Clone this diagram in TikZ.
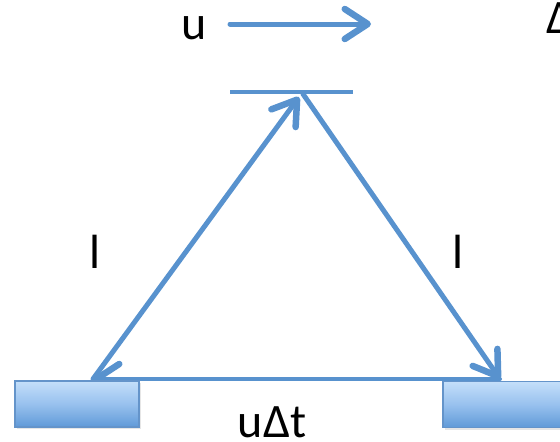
\documentclass[tikz,border=0pt]{standalone}
\usepackage{fontspec}
\setmainfont{Carlito}
\usetikzlibrary{arrows.meta,shadows}
\definecolor{ln}{RGB}{88,146,206}
\definecolor{boxtop}{RGB}{196,223,250}
\definecolor{boxmid}{RGB}{152,193,238}
\definecolor{boxbot}{RGB}{96,154,216}
\definecolor{boxedge}{RGB}{100,148,202}
\tikzset{
  beam/.style={draw=ln,line width=5pt,line cap=round},
  barb/.style={-{Straight Barb[length=23pt,width=30pt,line width=6.5pt,line cap=round,round]}},
  mirrorbox/.style={rectangle,draw=boxedge,line width=1.5pt,top color=boxtop,bottom color=boxbot,middle color=boxmid,
    minimum width=124pt,minimum height=46pt,inner sep=0pt,
    drop shadow={shadow xshift=1.5pt,shadow yshift=-2pt,opacity=0.2}},
  lbl/.style={font=\fontsize{48}{58}\selectfont,text=black,inner sep=0pt,anchor=base}
}
\begin{document}
\begin{tikzpicture}[x=1pt,y=-1pt]
\useasboundingbox (0,0) rectangle (560,442);
\clip (0,0) rectangle (560,442);
% coordinates
\coordinate (ustart) at (230,24);
\coordinate (uend) at (371,24);
\coordinate (mL) at (230,92);
\coordinate (mR) at (353,92);
\coordinate (apexin) at (299,97);
\coordinate (apexout) at (303,94);
\coordinate (bl) at (93,379);
\coordinate (br) at (500,379);
% labels
\node[lbl] (u) at (194,39) {u};
\node[lbl,anchor=base west] (delta) at (546,33) {Δ};
\node[lbl] (l1) at (95,268) {l};
\node[lbl] (l2) at (458,268) {l};
\node[lbl] (udt) at (272,437) {uΔt};
% velocity arrow
\draw[beam,barb] (ustart) -- (uend);
% top mirror
\draw[draw=ln,line width=4.5pt] (mL) -- (mR);
% light path
\draw[beam,barb] (bl) -- (apexin);
\draw[beam,barb] (apexout) -- (br);
\draw[draw=ln,line width=4pt,line cap=round,barb] (br) -- (bl);
% bottom mirrors
\node[mirrorbox] (boxL) at (77,404) {};
\node[mirrorbox] (boxR) at (505,404.5) {};
\end{tikzpicture}
\end{document}
